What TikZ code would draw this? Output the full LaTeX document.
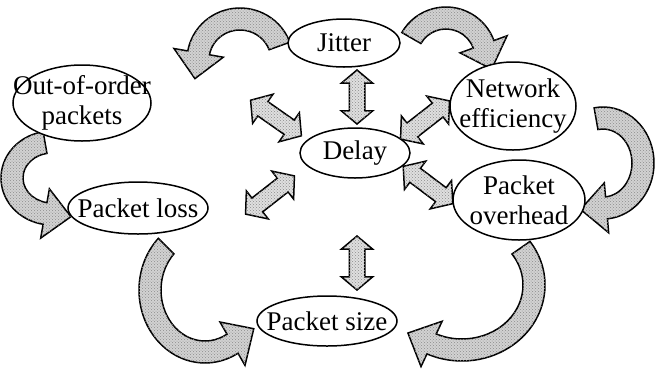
\documentclass[tikz,border=0pt]{standalone}
\usepackage{fontspec}
\setmainfont{Liberation Serif}
\usetikzlibrary{shapes.geometric,shapes.arrows,calc,patterns}

% Curved ribbon arrow running along an elliptical arc.
% #1 name, #2 centre, #3 x radius, #4 y radius,
% #5 tail angle, #6 head angle, #7 angle just past the head (sets the tip direction)
\newcommand\bandarrow[7]{%
  \coordinate (#1-c) at (#2);
  \coordinate (#1-e) at ($(#1-c)+(#6:#3 and #4)$);
  \coordinate (#1-f) at ($(#1-c)+(#7:#3 and #4)$);
  \draw[ribbon] ($(#1-c)+(#5:#3+11 and #4+11)$)
     arc[start angle=#5, end angle=#6, x radius=#3+11, y radius=#4+11]
     -- ($(#1-c)+(#6:#3+25 and #4+25)$)
     -- ($(#1-e)!26pt!(#1-f)$)
     -- ($(#1-c)+(#6:#3-25 and #4-25)$)
     -- ($(#1-c)+(#6:#3-11 and #4-11)$)
     arc[start angle=#6, end angle=#5, x radius=#3-11, y radius=#4-11]
     -- cycle;
}

\begin{document}
\begin{tikzpicture}[x=1pt, y=-1pt,
  bubble/.style={draw, ellipse, line width=1.5pt, fill=white, inner sep=0pt},
  bubtext/.style={font=\fontsize{27}{30}\selectfont, align=center, inner sep=0pt},
  grain/.style={postaction={pattern=crosshatch dots, pattern color=black!45}},
  twoway/.style={double arrow, draw, line width=1.5pt, fill=gray!25, grain,
    inner xsep=0pt, inner ysep=7pt, double arrow head extend=8pt,
    double arrow tip angle=100},
  slantway/.style={twoway, inner ysep=8pt, double arrow head extend=9pt},
  ribbon/.style={draw, line width=1.5pt, fill=gray!35, grain, line join=miter}]
\useasboundingbox (0,0) rectangle (657,368);

% curved one-way arrows around the ring
\bandarrow{ta}{240,60}{42}{41}{-20}{-170}{-174}
\bandarrow{tb}{446,58}{40}{40}{-150}{-20}{-16}
\bandarrow{tc}{603,163}{40}{45}{-100}{85}{89}
\bandarrow{td}{462,285}{72}{65}{-35}{115}{119}
\bandarrow{te}{205,290}{55}{62}{-135}{-300}{-304}
\bandarrow{tf}{52,178}{40}{36}{-100}{-260}{-264}

% the seven factors
\node[bubble, minimum width=112pt, minimum height=48pt] (jit) at (344,43) {};
\node[bubble, minimum width=138pt, minimum height=76pt] (ooo) at (82,103) {};
\node[bubble, minimum width=126pt, minimum height=88pt] (net) at (513,106) {};
\node[bubble, minimum width=110pt, minimum height=50pt] (del) at (355,153) {};
\node[bubble, minimum width=140pt, minimum height=52pt] (los) at (138,208) {};
\node[bubble, minimum width=132pt, minimum height=80pt] (ovh) at (519,200) {};
\node[bubble, minimum width=140pt, minimum height=50pt] (siz) at (327,321) {};

\node[bubtext] (jitT) at (jit) {Jitter};
\node[bubtext] (oooT) at (ooo) {Out-of-order\\packets};
\node[bubtext] (netT) at (net) {Network\\efficiency};
\node[bubtext] (delT) at (del) {Delay};
\node[bubtext] (losT) at (los) {Packet loss};
\node[bubtext] (ovhT) at (ovh) {Packet\\overhead};
\node[bubtext] (sizT) at (siz) {Packet size};

% two-way links with the delay
\node[twoway, minimum height=54pt, rotate=90] (v1) at (357,97) {};
\node[twoway, minimum height=54pt, rotate=90] (v2) at (357,263) {};
\node[slantway, minimum height=62pt, rotate=-35] (d1) at (276,118) {};
\node[slantway, minimum height=62pt, rotate=38] (d2) at (425,120) {};
\node[slantway, minimum height=62pt, rotate=38] (d3) at (270,195) {};
\node[slantway, minimum height=62pt, rotate=-37] (d4) at (428,185) {};
\end{tikzpicture}
\end{document}
